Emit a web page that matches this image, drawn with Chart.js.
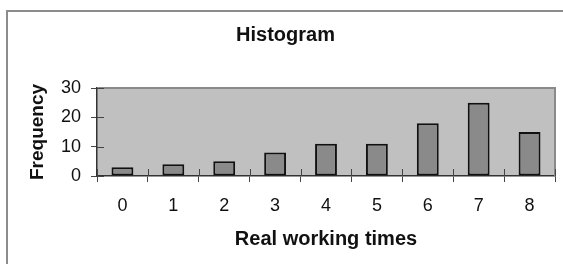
<!DOCTYPE html>
<html>
<head>
<meta charset="utf-8">
<script src="https://cdn.jsdelivr.net/npm/chart.js@4"></script>
<style>
  html, body { margin: 0; padding: 0; background: #fff; overflow: hidden; }
  #wrap { position: relative; width: 563px; height: 264px; }
  #frame { position: absolute; left: 6px; top: 10px; width: 600px; height: 300px;
           border-left: 2px solid #8c8c8c; border-top: 2px solid #8c8c8c; }
  #wrap canvas { position: absolute; left: 0; top: 0; }
</style>
</head>
<body>
<div id="wrap">
  <div id="frame"></div>
  <canvas id="histChart" width="563" height="264"></canvas>
</div>
<script>
// chart data
const categories = ['0', '1', '2', '3', '4', '5', '6', '7', '8'];
const frequencies = [3, 4, 5, 8, 11, 11, 18, 25, 15];
const yTicks = [0, 10, 20, 30];

Chart.defaults.font.family = "'Liberation Sans', Arial, sans-serif";
Chart.defaults.color = '#111';

// gray plot area, light frame on top/right, and tick marks that cross the axes
const plotFrame = {
    id: 'plotFrame',
    beforeDraw(chart) {
        const { ctx, chartArea: a } = chart;
        ctx.save();
        ctx.fillStyle = '#c0c0c0';
        ctx.fillRect(a.left, a.top, a.right - a.left, a.bottom - a.top);
        ctx.restore();
    },
    afterDraw(chart) {
        const { ctx, chartArea: a } = chart;
        const xs = chart.scales.x, ys = chart.scales.y;
        ctx.save();
        ctx.strokeStyle = '#8a8a8a';
        ctx.lineWidth = 2;
        ctx.beginPath();
        ctx.moveTo(a.left, a.top);
        ctx.lineTo(a.right, a.top);
        ctx.lineTo(a.right, a.bottom);
        ctx.stroke();

        ctx.strokeStyle = '#444';
        ctx.lineWidth = 1;
        ctx.beginPath();
        for (let i = 0; i <= categories.length; i++) {
            const px = Math.round(xs.getPixelForValue(i - 0.5)) + 0.5;
            ctx.moveTo(px, a.bottom);
            ctx.lineTo(px, a.bottom - 7);
        }
        yTicks.forEach(v => {
            const py = Math.round(ys.getPixelForValue(v)) + 0.5;
            ctx.moveTo(a.left, py);
            ctx.lineTo(a.left + 7, py);
        });
        ctx.stroke();
        ctx.restore();
    }
};

const ctx = document.getElementById('histChart').getContext('2d');
const histChart = new Chart(ctx, {
    type: 'bar',
    data: {
        labels: categories,
        datasets: [{
            label: 'Frequency',
            data: frequencies,
            backgroundColor: '#8a8a8a',
            borderColor: '#111',
            borderWidth: 2,
            borderSkipped: false,
            barPercentage: 0.43,
            categoryPercentage: 1
        }]
    },
    options: {
        responsive: false,
        animation: false,
        layout: { padding: { left: 16, right: 8, top: 0, bottom: 0 } },
        plugins: {
            legend: { display: false },
            tooltip: { enabled: false },
            title: {
                display: true,
                text: 'Histogram',
                font: { size: 20, weight: 'bold' },
                color: '#111',
                padding: { top: 23, bottom: 41 }
            }
        },
        scales: {
            x: {
                offset: true,
                grid: { offset: true, drawOnChartArea: false, tickLength: 6, color: '#444' },
                border: { color: '#333', width: 1.5 },
                ticks: { font: { size: 18 }, padding: 13, maxRotation: 0 },
                title: {
                    display: true,
                    text: 'Real working times',
                    font: { size: 20, weight: 'bold' },
                    padding: { top: 0, bottom: 13 }
                },
                afterFit: s => { s.height = 88; }
            },
            y: {
                min: 0,
                max: 30,
                afterBuildTicks: s => { s.ticks = yTicks.map(v => ({ value: v })); },
                grid: { drawOnChartArea: false, tickLength: 6, color: '#444' },
                border: { color: '#333', width: 1.5 },
                ticks: { font: { size: 18 }, padding: 10 },
                title: {
                    display: true,
                    text: 'Frequency',
                    font: { size: 19, weight: 'bold' },
                    padding: { top: 10, bottom: 0 }
                },
                afterFit: s => { s.width = 81; }
            }
        }
    },
    plugins: [plotFrame]
});
</script>
</body>
</html>
